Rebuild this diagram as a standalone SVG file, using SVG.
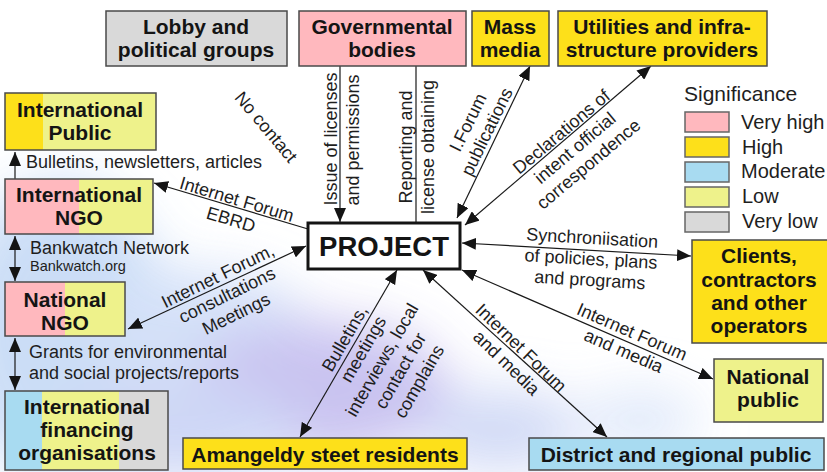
<svg xmlns="http://www.w3.org/2000/svg" width="827" height="472" viewBox="0 0 827 472">
<defs>
<style>
.box{stroke:#4a4a4a;stroke-width:1.5}
.nt{font-family:"Liberation Sans",Arial,sans-serif;font-weight:bold;font-size:21px;fill:#141414;text-anchor:middle}
.lb{font-family:"Liberation Sans",Arial,sans-serif;font-size:18px;fill:#1e1e1e}
.lg{font-family:"Liberation Sans",Arial,sans-serif;font-size:20px;fill:#1e1e1e}
.lc{font-family:"Liberation Sans",Arial,sans-serif;font-size:18px;fill:#1e1e1e;text-anchor:middle}
.ln{stroke:#1a1a1a;stroke-width:1.2;fill:none}
.vh{fill:#ffb8be}.hi{fill:#fde01a}.mo{fill:#a8dbf1}.lo{fill:#eef28b}.vl{fill:#d9d9d9}
</style>
<marker id="ah" viewBox="0 0 14 12" refX="14" refY="6" markerWidth="14" markerHeight="12" markerUnits="userSpaceOnUse" orient="auto-start-reverse">
<path d="M0,0 L14,6 L0,12 z" fill="#141414"/>
</marker>
<filter id="blur" x="-50%" y="-50%" width="200%" height="200%"><feGaussianBlur stdDeviation="26"/></filter>
</defs>
<rect width="827" height="472" fill="#ffffff"/>
<g id="background" filter="url(#blur)" opacity="0.9">
<ellipse cx="60" cy="330" rx="110" ry="150" fill="#c6daf6"/>
<ellipse cx="200" cy="330" rx="110" ry="60" fill="#d0def8"/>
<ellipse cx="320" cy="390" rx="130" ry="70" fill="#c4bdef"/>
<ellipse cx="180" cy="430" rx="120" ry="50" fill="#c9d3f5"/>
<ellipse cx="500" cy="430" rx="80" ry="40" fill="#ccd6f5"/>
<ellipse cx="640" cy="420" rx="60" ry="30" fill="#dce6fa"/>
</g>

<g id="connectors">
<line class="ln" x1="340" y1="66" x2="340" y2="222" marker-end="url(#ah)"/>
<line class="ln" x1="416" y1="66" x2="416" y2="222"/>
<line class="ln" x1="457" y1="218" x2="530" y2="66" marker-start="url(#ah)" marker-end="url(#ah)"/>
<line class="ln" x1="465" y1="225" x2="651" y2="66" marker-start="url(#ah)" marker-end="url(#ah)"/>
<line class="ln" x1="462" y1="243" x2="691" y2="256" marker-start="url(#ah)" marker-end="url(#ah)"/>
<line class="ln" x1="462" y1="270" x2="713" y2="379" marker-start="url(#ah)" marker-end="url(#ah)"/>
<line class="ln" x1="423" y1="270" x2="607" y2="437" marker-start="url(#ah)" marker-end="url(#ah)"/>
<line class="ln" x1="397" y1="270" x2="300" y2="437" marker-start="url(#ah)" marker-end="url(#ah)"/>
<line class="ln" x1="306" y1="246" x2="128" y2="329" marker-start="url(#ah)" marker-end="url(#ah)"/>
<line class="ln" x1="308" y1="229" x2="154" y2="183" marker-end="url(#ah)"/>
<line class="ln" x1="15" y1="179" x2="15" y2="152" marker-end="url(#ah)"/>
<line class="ln" x1="15" y1="236" x2="15" y2="281" marker-start="url(#ah)" marker-end="url(#ah)"/>
<line class="ln" x1="15" y1="338" x2="15" y2="390" marker-start="url(#ah)" marker-end="url(#ah)"/>

<g transform="translate(330,139) rotate(-90)"><text class="lc" x="0" y="7">Issue of licenses</text></g>
<g transform="translate(352,140) rotate(-90)"><text class="lc" x="0" y="7">and permissions</text></g>
<g transform="translate(405,147) rotate(-90)"><text class="lc" x="0" y="7">Reporting and</text></g>
<g transform="translate(427,147) rotate(-90)"><text class="lc" x="0" y="7">license obtaining</text></g>
<g transform="translate(477,127) rotate(-64)"><text class="lc" x="0" y="-4">I.Forum</text><text class="lc" x="0" y="17">publications</text></g>
<g transform="translate(575,148) rotate(-40)"><text class="lc" x="0" y="-15">Declarations of</text><text class="lc" x="0" y="6">intent official</text><text class="lc" x="0" y="27">correspondence</text></g>
<g transform="translate(591,259) rotate(3.3)"><text class="lc" x="0" y="-15">Synchroniisation</text><text class="lc" x="0" y="6">of policies, plans</text><text class="lc" x="0" y="27">and programs</text></g>
<g transform="translate(628,341) rotate(23.5)"><text class="lc" x="0" y="-4">Internet Forum</text><text class="lc" x="0" y="17">and media</text></g>
<g transform="translate(514,355) rotate(44)"><text class="lc" x="0" y="-4">Internet Forum</text><text class="lc" x="0" y="17">and media</text></g>
<g transform="translate(382,360) rotate(-60)"><text class="lc" x="0" y="-37">Bulletins,</text><text class="lc" x="0" y="-15.5">meetings</text><text class="lc" x="0" y="6">interviews, local</text><text class="lc" x="0" y="27.5">contact for</text><text class="lc" x="0" y="49">complains</text></g>
<g transform="translate(227,295) rotate(-26)"><text class="lc" x="0" y="-15">Internet Forum,</text><text class="lc" x="0" y="6">consultations</text><text class="lc" x="0" y="27">Meetings</text></g>
<g transform="translate(234,209) rotate(16.6)"><text class="lc" x="0" y="-4">Internet Forum</text><text class="lc" x="0" y="17">EBRD</text></g>
<g transform="translate(266,127) rotate(50)"><text class="lc" x="0" y="6">No contact</text></g>
<text class="lb" x="26" y="168">Bulletins, newsletters, articles</text>
<text class="lb" x="30" y="254">Bankwatch Network</text>
<text class="lb" x="30" y="271" style="font-size:14.5px">Bankwatch.org</text>
<text class="lb" x="29" y="358">Grants for environmental</text>
<text class="lb" x="29" y="379">and social projects/reports</text>
</g>

<g id="project">
<rect x="308" y="223" width="152" height="46" fill="#ffffff" stroke="#141414" stroke-width="3"/>
<text class="nt" x="384" y="256" style="font-size:27.5px">PROJECT</text>
</g>
<g id="lobby">
<rect class="box vl" x="106" y="11" width="181" height="55"/>
<text class="nt" x="196" y="34">Lobby and</text><text class="nt" x="196" y="57">political groups</text>
</g>
<g id="governmental">
<rect class="box vh" x="299" y="11" width="167" height="55"/>
<text class="nt" x="382" y="34">Governmental</text><text class="nt" x="382" y="57">bodies</text>
</g>
<g id="massmedia">
<rect class="box hi" x="472" y="11" width="77" height="55"/>
<text class="nt" x="510" y="34">Mass</text><text class="nt" x="510" y="57">media</text>
</g>
<g id="utilities">
<rect class="box hi" x="558" y="11" width="209" height="55"/>
<text class="nt" x="662" y="34">Utilities and infra-</text><text class="nt" x="662" y="57">structure providers</text>
</g>
<g id="intpublic">
<rect class="lo" x="5" y="93" width="151" height="57"/>
<rect class="hi" x="5" y="93" width="38" height="57"/>
<rect x="5" y="93" width="151" height="57" fill="none" stroke="#4a4a4a" stroke-width="1.5"/>
<text class="nt" x="80" y="117">International</text><text class="nt" x="80" y="140">Public</text>
</g>
<g id="intngo">
<rect class="lo" x="5" y="179" width="148" height="55"/>
<rect class="vh" x="5" y="179" width="74" height="55"/>
<rect x="5" y="179" width="148" height="55" fill="none" stroke="#4a4a4a" stroke-width="1.5"/>
<text class="nt" x="79" y="202">International</text><text class="nt" x="79" y="225">NGO</text>
</g>
<g id="nationalngo">
<rect class="lo" x="5" y="282" width="120" height="54"/>
<rect class="vh" x="5" y="282" width="60" height="54"/>
<rect x="5" y="282" width="120" height="54" fill="none" stroke="#4a4a4a" stroke-width="1.5"/>
<text class="nt" x="65" y="307">National</text><text class="nt" x="65" y="330">NGO</text>
</g>
<g id="ifo">
<rect class="lo" x="5" y="391" width="163" height="79"/>
<rect class="mo" x="5" y="391" width="37" height="79"/>
<rect class="vl" x="119" y="391" width="49" height="79"/>
<rect x="5" y="391" width="163" height="79" fill="none" stroke="#4a4a4a" stroke-width="1.5"/>
<text class="nt" x="87" y="414">International</text><text class="nt" x="87" y="437">financing</text><text class="nt" x="87" y="460">organisations</text>
</g>
<g id="amangeldy">
<rect class="box hi" x="183" y="438" width="284" height="31"/>
<text class="nt" x="325" y="462">Amangeldy steet residents</text>
</g>
<g id="district">
<rect class="box mo" x="529" y="438" width="295" height="32"/>
<text class="nt" x="676" y="462">District and regional public</text>
</g>
<g id="nationalpublic">
<rect class="box lo" x="714" y="359" width="109" height="63"/>
<text class="nt" x="768" y="384">National</text><text class="nt" x="768" y="407">public</text>
</g>
<g id="clients">
<rect class="box hi" x="692" y="240" width="137" height="103"/>
<text class="nt" x="759" y="263">Clients,</text><text class="nt" x="759" y="287">contractors</text><text class="nt" x="759" y="310">and other</text><text class="nt" x="759" y="333">operators</text>
</g>
<g id="legend">
<text class="lg" x="684" y="101" style="font-size:21px">Significance</text>
<rect class="box vh" x="685" y="112" width="44" height="20" style="stroke:#666"/>
<rect class="box hi" x="685" y="137" width="44" height="20" style="stroke:#666"/>
<rect class="box mo" x="685" y="162" width="44" height="20" style="stroke:#666"/>
<rect class="box lo" x="685" y="187" width="44" height="20" style="stroke:#666"/>
<rect class="box vl" x="685" y="212" width="44" height="20" style="stroke:#666"/>
<text class="lg" x="741" y="129">Very high</text>
<text class="lg" x="742" y="154">High</text>
<text class="lg" x="741" y="178">Moderate</text>
<text class="lg" x="742" y="203">Low</text>
<text class="lg" x="742" y="228">Very low</text>
</g>
</svg>
